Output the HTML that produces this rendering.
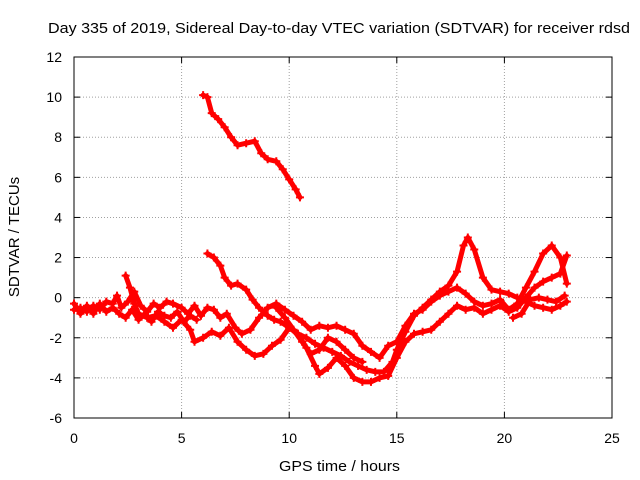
<!DOCTYPE html>
<html><head><meta charset="utf-8"><style>
body{margin:0;background:#fff;}
svg{display:block;font-family:"Liberation Sans",sans-serif;}
</style></head><body>
<svg id="chart" width="640" height="480" viewBox="0 0 640 480">
<rect width="640" height="480" fill="#fff"/>
<g id="grid"></g>
<g id="axes"></g>
<g id="marks"></g>
<text x="48" y="33" font-size="15" textLength="582" lengthAdjust="spacingAndGlyphs">Day 335 of 2019, Sidereal Day-to-day VTEC variation (SDTVAR) for receiver rdsd</text>
<text x="279" y="471" font-size="15" textLength="121" lengthAdjust="spacingAndGlyphs">GPS time / hours</text>
<text transform="translate(19,237) rotate(-90)" font-size="15" text-anchor="middle">SDTVAR / TECUs</text>
</svg>
<script>
const xTicks=[0,5,10,15,20,25];
const yTicks=[-6,-4,-2,0,2,4,6,8,10,12];
const trackA=[[6.0,10.1],[6.2,10.0],[6.4,9.2],[6.7,8.9],[7.0,8.5],[7.3,8.0],[7.6,7.6],[8.0,7.7],[8.4,7.8],[8.7,7.2],[9.0,6.9],[9.4,6.8],[9.7,6.4],[10.0,5.9],[10.3,5.4],[10.5,5.0]];
const trackB=[[6.2,2.2],[6.5,2.0],[6.8,1.6],[7.0,1.0],[7.3,0.6],[7.6,0.7],[8.0,0.4],[8.3,-0.1],[8.6,-0.5],[9.0,-0.9],[9.3,-1.1],[9.6,-1.2],[10.0,-1.5],[10.4,-1.8],[10.8,-2.0],[11.2,-2.3],[11.6,-2.5],[12.0,-2.7],[12.4,-2.9],[12.8,-3.2],[13.2,-3.4],[13.6,-3.6],[14.0,-3.7],[14.4,-3.7],[14.8,-3.2],[15.0,-2.6],[15.4,-1.7],[15.8,-0.9],[16.2,-0.5],[16.6,-0.1],[17.0,0.3],[17.4,0.6],[17.8,1.3],[18.1,2.6],[18.3,3.0],[18.6,2.4],[19.0,1.0],[19.4,0.4],[19.8,0.3],[20.2,0.2],[20.6,0.0],[21.0,-0.2],[21.4,-0.4],[21.8,-0.5],[22.2,-0.6],[22.6,-0.4],[22.9,-0.2]];
const trackC=[[2.4,1.1],[2.6,0.5],[2.8,-0.3],[3.0,-0.8],[3.4,-1.0],[3.8,-0.9],[4.2,-1.2],[4.6,-1.5],[5.0,-1.1],[5.4,-1.6],[5.6,-2.2],[6.0,-2.0],[6.4,-1.7],[6.8,-1.9],[7.2,-1.5],[7.6,-2.2],[8.0,-2.6],[8.4,-2.9],[8.8,-2.8],[9.2,-2.4],[9.6,-2.1],[10.0,-1.5],[10.4,-1.8],[10.8,-2.5],[11.2,-3.4],[11.4,-3.8],[11.8,-3.5],[12.2,-3.0],[12.6,-3.4],[13.0,-4.0],[13.4,-4.2],[13.8,-4.2],[14.2,-4.0],[14.6,-3.9],[15.0,-3.0],[15.4,-2.2],[15.8,-1.8],[16.2,-1.7],[16.6,-1.6],[17.0,-1.2],[17.4,-0.8],[17.8,-0.4],[18.2,-0.6],[18.6,-0.5],[19.0,-0.8],[19.4,-0.6],[19.8,-0.4],[20.2,-0.7],[20.6,-0.5],[21.0,0.0],[21.4,0.5],[21.8,0.8],[22.2,1.0],[22.6,1.2],[22.9,2.1]];
const trackD=[[0,-0.6],[0.3,-0.5],[0.6,-0.7],[0.9,-0.4],[1.2,-0.6],[1.5,-0.2],[1.8,-0.3],[2.0,0.1],[2.2,-0.5],[2.5,-0.2],[2.8,0.3],[3.1,-0.4],[3.4,-0.7],[3.7,-0.3],[4.0,-0.5],[4.3,-0.2],[4.6,-0.3],[5.0,-0.5],[5.3,-0.8],[5.6,-0.4],[5.9,-0.9],[6.2,-0.5],[6.5,-0.6],[6.8,-1.0],[7.1,-0.8],[7.5,-1.5],[7.8,-1.8],[8.2,-1.6],[8.6,-1.0],[9.0,-0.5],[9.4,-0.3],[9.8,-0.6],[10.2,-0.9],[10.6,-1.2],[11.0,-1.6],[11.4,-1.4],[11.8,-1.5],[12.2,-1.4],[12.6,-1.6],[13.0,-1.8],[13.4,-2.4],[13.8,-2.7],[14.2,-3.0],[14.6,-2.4],[15.0,-2.2],[15.4,-1.4],[15.8,-0.8],[16.2,-0.6],[16.6,-0.2],[17.0,0.1],[17.4,0.3],[17.8,0.5],[18.2,0.2],[18.6,-0.2],[19.0,-0.4],[19.4,-0.3],[19.8,-0.1],[20.2,-0.6],[20.6,-0.3],[21.0,0.5],[21.4,1.3],[21.8,2.2],[22.2,2.6],[22.6,2.0],[22.9,0.7]];
const trackE=[[0,-0.3],[0.3,-0.8],[0.6,-0.4],[0.9,-0.8],[1.2,-0.3],[1.5,-0.7],[1.8,-0.5],[2.1,-0.8],[2.4,-1.0],[2.7,-0.6],[3.0,-1.1],[3.3,-0.8],[3.6,-1.2],[3.9,-0.7],[4.2,-0.9],[4.5,-1.0],[4.8,-0.7],[5.1,-1.2],[5.4,-0.9],[5.7,-1.1]];
const trackF=[[9.4,-0.5],[9.8,-1.0],[10.2,-1.6],[10.6,-2.2],[11.0,-2.8],[11.4,-2.6],[11.8,-2.0],[12.2,-2.2],[12.6,-2.6],[13.0,-3.0],[13.4,-3.2]];
const trackG=[[20.4,-1.0],[20.8,-0.8],[21.2,-0.1],[21.6,0.0],[22.0,-0.1],[22.4,-0.2],[22.8,0.1]];
const tracks=[trackA,trackB,trackC,trackD,trackE,trackF,trackG];

const NS='http://www.w3.org/2000/svg';
const L=74,R=612,T=57,B=418;
const xS=v=>L+(v-0)/(25-0)*(R-L);
const yS=v=>B-(v+6)/(12+6)*(B-T);
function mk(tag,at,parent){const e=document.createElementNS(NS,tag);for(const k in at)e.setAttribute(k,at[k]);parent.appendChild(e);return e;}
const grid=document.getElementById('grid'),axes=document.getElementById('axes'),marks=document.getElementById('marks');
xTicks.forEach(t=>{const x=xS(t);
 if(t>0&&t<25){const g=mk('line',{x1:x,x2:x,y1:T,y2:B,stroke:'#a0a0a0','stroke-dasharray':'1,2','stroke-width':1},grid);
 }
 mk('line',{x1:x,x2:x,y1:B,y2:B-6,stroke:'#000'},axes);mk('line',{x1:x,x2:x,y1:T,y2:T+6,stroke:'#000'},axes);
 const tx=mk('text',{x:x,y:B+25,'font-size':14,'text-anchor':'middle'},axes);tx.textContent=t;
 });
yTicks.forEach(t=>{const y=yS(t);
 if(t>-6&&t<12){const g=mk('line',{x1:L,x2:R,y1:y,y2:y,stroke:'#a0a0a0','stroke-dasharray':'1,2','stroke-width':1},grid);
 }
 mk('line',{x1:L,x2:L+6,y1:y,y2:y,stroke:'#000'},axes);mk('line',{x1:R,x2:R-6,y1:y,y2:y,stroke:'#000'},axes);
 const tx=mk('text',{x:L-12,y:y+5,'font-size':14,'text-anchor':'end'},axes);tx.textContent=t;
 });
const fr=mk('rect',{x:L,y:T,width:R-L,height:B-T,fill:'none',stroke:'#000'},axes);

tracks.forEach((tr,i)=>{
 const pl=mk('polyline',{points:tr.map(p=>xS(p[0])+','+yS(p[1])).join(' '),fill:'none',stroke:'#f00','stroke-width':5,'stroke-linejoin':'round','stroke-linecap':'round'},marks);
 
 
 tr.forEach(p=>{const x=xS(p[0]),y=yS(p[1]);
  const m=mk('path',{d:`M${x-4},${y}H${x+4}M${x},${y-4}V${y+4}`,stroke:'#f00','stroke-width':2},marks);
  
  });
});
</script>
</body></html>
